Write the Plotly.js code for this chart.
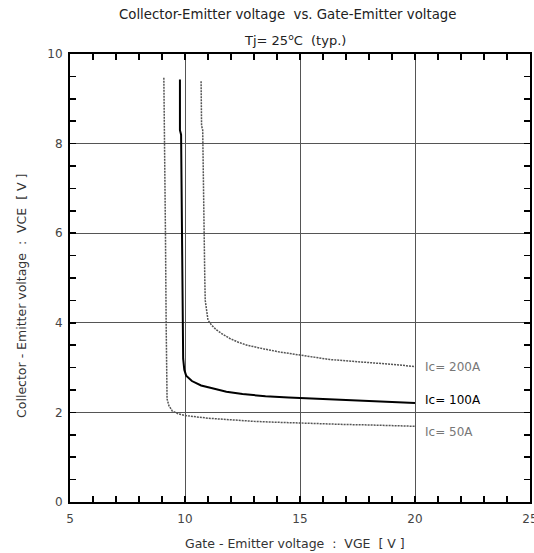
<!DOCTYPE html>
<html>
<head>
<meta charset="utf-8">
<script src="https://cdn.plot.ly/plotly-3.0.1.min.js"></script>
<style>html,body{margin:0;padding:0;background:#fff;}</style>
</head>
<body>
<div id="chart" style="width:534px;height:553px;"></div>
<script>
// Ic = 50A
const vge50 = [9.08, 9.12, 9.15, 9.18, 9.2, 9.22, 9.3, 9.45, 9.7, 10, 11, 12, 13, 14, 15, 16, 17, 18, 19, 20];
const vce50 = [9.47, 8, 6, 4, 2.6, 2.3, 2.15, 2.03, 1.97, 1.93, 1.87, 1.83, 1.8, 1.78, 1.76, 1.75, 1.73, 1.72, 1.70, 1.69];
// Ic = 100A
const vge100 = [9.78, 9.78, 9.83, 9.87, 9.9, 9.92, 9.97, 10.05, 10.3, 10.7, 11.1, 11.8, 12.5, 13.5, 14.5, 15.5, 16.3, 17, 18, 19, 20];
const vce100 = [9.43, 8.3, 8.2, 6, 4, 3.2, 2.95, 2.82, 2.7, 2.6, 2.55, 2.46, 2.41, 2.36, 2.33, 2.31, 2.29, 2.27, 2.25, 2.23, 2.21];
// Ic = 200A
const vge200 = [10.70, 10.72, 10.77, 10.8, 10.83, 10.86, 10.88, 10.93, 11.0, 11.15, 11.37, 11.65, 11.95, 12.3, 12.7, 13.4, 14.1, 15, 16.3, 17.3, 18.5, 19.3, 20];
const vce200 = [9.39, 8.4, 8.3, 6.8, 6.7, 5, 4.5, 4.25, 4.06, 3.95, 3.84, 3.74, 3.65, 3.57, 3.5, 3.42, 3.35, 3.28, 3.18, 3.14, 3.1, 3.06, 3.02];

const seriesLabels = ["Ic= 200A", "Ic= 100A", "Ic= 50A"];
const labelY = [3.02, 2.27, 1.57];
const xTickVals = [5, 10, 15, 20, 25];
const yTickVals = [0, 2, 4, 6, 8, 10];

const FONT = "DejaVu Sans, Liberation Sans, sans-serif";

const traces = [
  {x: vge50, y: vce50, mode: "lines", line: {color: "#555", width: 1.5, dash: "2px,1px"}, hoverinfo: "none"},
  {x: vge100, y: vce100, mode: "lines", line: {color: "#000", width: 2}, hoverinfo: "none"},
  {x: vge200, y: vce200, mode: "lines", line: {color: "#555", width: 1.5, dash: "2px,1px"}, hoverinfo: "none"}
];

const labelColors = ["#777", "#000", "#777"];
const annotations = seriesLabels.map((t, i) => ({
  x: 20.35, y: labelY[i], xref: "x", yref: "y", text: t, showarrow: false,
  xanchor: "left", yanchor: "middle", font: {family: FONT, size: 12, color: labelColors[i]}
}));
annotations.push({
  x: 0.472, y: 1, xref: "paper", yref: "paper", yshift: 40, text: "Collector-Emitter voltage  vs. Gate-Emitter voltage",
  showarrow: false, xanchor: "center", yanchor: "middle", font: {family: FONT, size: 13.3, color: "#222"}
});
annotations.push({
  x: 0.49, y: 1, xref: "paper", yref: "paper", yshift: 14, text: "Tj= 25<sup>o</sup>C  (typ.)",
  showarrow: false, xanchor: "center", yanchor: "middle", font: {family: FONT, size: 13, color: "#222"}
});
annotations.push({
  x: 0.489, y: 0, xref: "paper", yref: "paper", yshift: -41.5, text: "Gate - Emitter voltage  :  VGE  [ V ]",
  showarrow: false, xanchor: "center", yanchor: "middle", font: {family: FONT, size: 12.5, color: "#333"}
});
annotations.push({
  x: 0, y: 0.46, xref: "paper", yref: "paper", xshift: -48, text: "Collector - Emitter voltage  :  VCE  [ V ]",
  textangle: -90, showarrow: false, xanchor: "center", yanchor: "middle", font: {family: FONT, size: 12.5, color: "#333"}
});

const layout = {
  width: 534, height: 553,
  margin: {l: 70, r: 4, t: 54, b: 51},
  paper_bgcolor: "#fff", plot_bgcolor: "#fff",
  showlegend: false,
  font: {family: FONT, size: 12, color: "#333"},
  xaxis: {
    range: [5, 25], tickvals: xTickVals, ticktext: xTickVals.map(String), ticklabeloverflow: "allow",
    ticklabelstandoff: 5,
    showline: true, linecolor: "#000", linewidth: 2, mirror: "allticks",
    ticks: "inside", ticklen: 6, tickcolor: "#000", tickwidth: 1.5,
    showgrid: true, gridcolor: "#555", gridwidth: 1, zeroline: false,
    minor: {dtick: 1, tick0: 5, ticks: "inside", ticklen: 6, tickcolor: "#000", tickwidth: 1.5, showgrid: false},
    tickfont: {family: FONT, size: 12, color: "#444"}
  },
  yaxis: {
    range: [0, 10], tickvals: yTickVals, ticktext: yTickVals.map(String), ticklabeloverflow: "allow",
    ticklabelstandoff: 3,
    showline: true, linecolor: "#000", linewidth: 2, mirror: "allticks",
    ticks: "inside", ticklen: 6, tickcolor: "#000", tickwidth: 1.5,
    showgrid: true, gridcolor: "#555", gridwidth: 1, zeroline: false,
    minor: {dtick: 0.5, tick0: 0, ticks: "inside", ticklen: 6, tickcolor: "#000", tickwidth: 1.5, showgrid: false},
    tickfont: {family: FONT, size: 12, color: "#444"}
  },
  annotations: annotations
};

Plotly.newPlot("chart", traces, layout, {staticPlot: true, displayModeBar: false});
</script>
</body>
</html>
